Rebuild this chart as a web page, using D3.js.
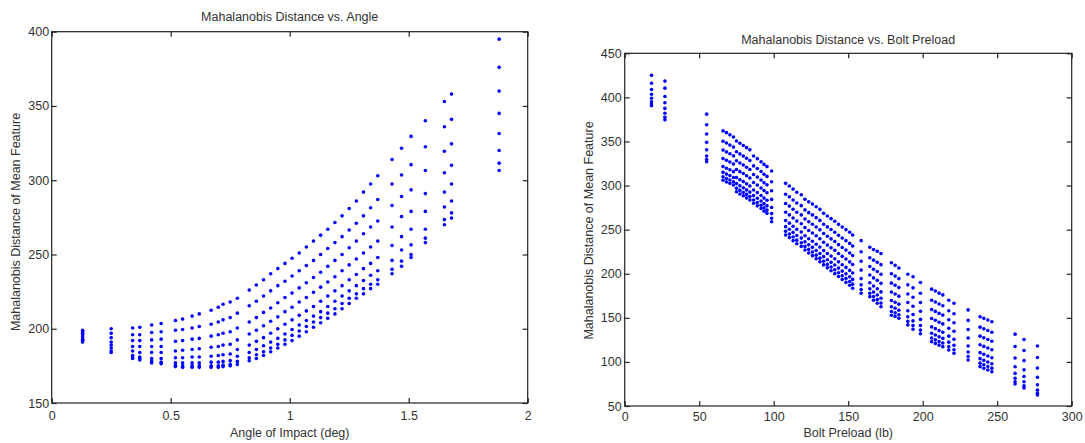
<!DOCTYPE html>
<html>
<head>
<meta charset="utf-8">
<script src="https://cdn.jsdelivr.net/npm/d3@7"></script>
<style>
  html, body { margin: 0; padding: 0; background: #fff; }
  svg { display: block; }
  text { font-family: "Liberation Sans", Arial, Helvetica, sans-serif; fill: #333; }
</style>
</head>
<body>
<svg id="chart" width="1085" height="443"></svg>
<script>
// ---------------- Left chart: Mahalanobis Distance vs. Angle ----------------
const leftTitle = "Mahalanobis Distance vs. Angle";
const leftXLabel = "Angle of Impact (deg)";
const leftYLabel = "Mahalanobis Distance of Mean Feature";
const leftXTicks = [0, 0.5, 1, 1.5, 2];
const leftXTickLabels = ["0", "0.5", "1", "1.5", "2"];
const leftYTicks = [150, 200, 250, 300, 350, 400];
const leftYTickLabels = ["150", "200", "250", "300", "350", "400"];

// impact angles (deg) at which measurements were taken
const angleCols = [0.13, 0.25, 0.34, 0.37, 0.42, 0.46, 0.52, 0.55, 0.59, 0.62, 0.67, 0.70, 0.72, 0.75, 0.78,
  0.83, 0.86, 0.89, 0.92, 0.95, 0.98, 1.01, 1.04, 1.07, 1.10, 1.13, 1.16, 1.19, 1.22, 1.25, 1.28, 1.31, 1.34, 1.37,
  1.43, 1.47, 1.51, 1.57, 1.65, 1.68, 1.88];
// distances at each angle (one value per preload level, top to bottom)
const angleDistances = [
  [199, 198, 197, 196, 194.5, 193, 192, 191],
  [200, 197, 194, 191, 189, 187, 185, 184],
  [200.5, 196, 192, 188, 185, 182, 181, 180],
  [201, 196, 192, 188, 184, 181, 180, 179],
  [202.5, 197.5, 192.5, 188, 184, 180, 178, 177],
  [203.5, 198, 193, 188, 184, 180, 177.5, 176.5],
  [205.5, 199, 191.5, 185, 180.5, 177, 175.5, 174.5],
  [206.5, 199.5, 192, 185.5, 180.5, 177, 175, 174],
  [208.5, 200.5, 193, 186, 181, 177, 175, 174],
  [210, 201.5, 193.5, 186.5, 181, 177, 175, 174],
  [212.5, 203, 195, 187.5, 181.5, 177.5, 175, 174],
  [214.5, 204.5, 196, 188, 182, 177.5, 175, 174],
  [216.5, 206, 197, 189, 182.5, 178, 175.5, 174.5],
  [218, 207.5, 198, 189.5, 183, 178.5, 176, 175],
  [220.5, 210.5, 200.5, 192.5, 186, 181.5, 178, 176],
  [226, 215.5, 204.5, 196.5, 189, 184, 180.5, 178.5],
  [229.5, 218.5, 207.5, 199, 191.5, 186, 182.5, 180],
  [233, 222, 211, 202, 194, 188.5, 184.5, 182],
  [237, 225.5, 214, 205, 197, 191, 187, 184.5],
  [240.5, 229, 217.5, 208, 200, 193.5, 189.5, 187],
  [244, 232, 221, 211.5, 203, 196.5, 192.5, 189.5],
  [247.5, 235.5, 224, 214.5, 206, 199.5, 195.5, 192],
  [251, 239, 227.5, 218, 209, 202.5, 198.5, 195],
  [255, 242.5, 231, 221, 212, 205.5, 201.5, 198],
  [259, 246, 234.5, 224.5, 215, 208.5, 204.5, 201],
  [263, 250, 238, 228, 218.5, 211.5, 207.5, 204],
  [267, 254, 242, 231.5, 222, 215, 210.5, 207],
  [271.5, 258, 246, 235, 225.5, 218.5, 213.5, 210],
  [276, 262, 250, 239, 229, 222, 217, 213.5],
  [281, 266.5, 254.5, 243, 233, 225.5, 220.5, 217],
  [286, 271, 259, 247, 236.5, 229, 223.5, 220.5],
  [292, 276, 264, 251, 240.5, 232.5, 227, 223.5],
  [297.5, 281.5, 268.5, 255, 244, 236, 230, 227],
  [303, 287, 272.5, 259, 248, 239, 233, 230],
  [314, 297.5, 283, 268.5, 256, 246, 240, 237],
  [321.5, 303.5, 289, 275.5, 262, 253, 245.5, 242],
  [329.5, 310.5, 293.5, 279, 267, 256.5, 250, 248],
  [340, 322.5, 306.5, 291, 279, 267, 261, 258],
  [353, 336, 319.5, 305, 292, 282, 273.5, 270],
  [358, 341, 324.5, 310, 297.5, 286, 278, 274.5],
  [395, 376, 360, 345, 331.5, 320, 311.5, 306.5]
];

// ---------------- Right chart: Mahalanobis Distance vs. Bolt Preload ----------------
const rightTitle = "Mahalanobis Distance vs. Bolt Preload";
const rightXLabel = "Bolt Preload (lb)";
const rightYLabel = "Mahalanobis Distance of Mean Feature";
const rightXTicks = [0, 50, 100, 150, 200, 250, 300];
const rightXTickLabels = ["0", "50", "100", "150", "200", "250", "300"];
const rightYTicks = [50, 100, 150, 200, 250, 300, 350, 400, 450];
const rightYTickLabels = ["50", "100", "150", "200", "250", "300", "350", "400", "450"];

const preloadCols = [18, 27, 55, 66, 68.3, 70.6, 73, 75, 77.3, 79.6, 81.8, 84, 86.5, 89, 91.5, 93.5, 95.5, 98.6,
  108, 110.5, 113, 115.5, 118.5, 121, 123.5, 126, 128.5, 131, 133.5, 136, 138.5, 141, 143.5, 146, 148.5, 151, 153,
  158.7, 164.5, 167, 169.5, 172, 179, 181.5, 184, 190, 193.5, 198.5, 206, 208.5, 211, 213.5, 217.5, 221, 230.5,
  238.5, 241, 243.7, 246.4, 262, 268, 277];
const preloadDistances = [
  [425, 416, 409, 403.5, 399, 395, 392.5, 390.5],
  [418.5, 410.5, 401, 394, 387.5, 382, 377.5, 374.5],
  [381, 369, 358.5, 349, 340.5, 333.5, 329.5, 327],
  [362, 350.2, 340.2, 330.6, 321.7, 315, 309.9, 306],
  [360, 348.2, 338.2, 328.6, 319.7, 313, 307.9, 304],
  [357.5, 345.9, 336, 326.7, 317.9, 311.3, 306.3, 302.5],
  [355, 343.6, 333.7, 324.5, 315.8, 309.2, 304.3, 300.5],
  [350.5, 338.4, 328.1, 318.3, 309.1, 302.2, 297, 293],
  [348, 335.9, 325.6, 315.8, 306.6, 299.7, 294.5, 290.5],
  [345.5, 333.5, 323.3, 313.6, 304.5, 297.6, 292.5, 288.5],
  [343, 331, 320.8, 311.1, 302, 295.1, 290, 286],
  [340.5, 328.5, 318.3, 308.6, 299.5, 292.6, 287.5, 283.5],
  [333.5, 322.3, 312.6, 303.5, 295, 288.6, 283.7, 280],
  [330.5, 319.3, 309.6, 300.5, 292, 285.6, 280.7, 277],
  [327, 315.9, 306.3, 297.3, 288.8, 282.5, 277.7, 274],
  [324, 312.9, 303.3, 294.3, 285.8, 279.5, 274.7, 271],
  [321.5, 310.4, 300.8, 291.8, 283.3, 277, 272.2, 268.5],
  [316.5, 304.4, 294.1, 284.3, 275.1, 268.2, 263, 259],
  [302.5, 290.2, 279.7, 269.7, 260.4, 253.4, 248.1, 244],
  [299.5, 287.2, 276.7, 266.7, 257.4, 250.4, 245.1, 241],
  [296, 283.7, 273.2, 263.2, 253.9, 246.9, 241.6, 237.5],
  [292.5, 280.2, 269.7, 259.7, 250.4, 243.4, 238.1, 234],
  [289.5, 277.2, 266.7, 256.7, 247.4, 240.4, 235.1, 231],
  [284.5, 272.4, 262.1, 252.3, 243.1, 236.2, 231, 227],
  [281.5, 269.3, 258.9, 249, 239.7, 232.8, 227.6, 223.5],
  [279, 266.7, 256.2, 246.2, 236.9, 229.9, 224.6, 220.5],
  [276, 263.6, 253, 243, 233.5, 226.4, 221.1, 217],
  [273, 260.5, 249.8, 239.7, 230.2, 223, 217.7, 213.5],
  [268.5, 256.2, 245.7, 235.7, 226.4, 219.4, 214.1, 210],
  [265.5, 253.1, 242.5, 232.5, 223, 215.9, 210.6, 206.7],
  [262.5, 250.1, 239.5, 229.5, 220, 212.9, 207.6, 203.4],
  [259.5, 247.1, 236.5, 226.5, 217, 209.9, 204.6, 200.1],
  [256, 243.6, 233, 223, 213.5, 206.4, 201.1, 196.8],
  [253, 240.5, 229.8, 219.7, 210.2, 203, 197.7, 193.5],
  [250, 237.5, 226.8, 216.7, 207.2, 200, 194.7, 190.2],
  [247, 234.4, 223.6, 213.4, 203.8, 196.6, 191.2, 186.9],
  [244, 231.4, 220.6, 210.4, 200.8, 193.6, 188.2, 183.6],
  [237.5, 225, 214.2, 204.1, 194.5, 187.4, 182, 177.8],
  [230, 218.2, 208.2, 198.6, 189.7, 183, 177.9, 174],
  [227.5, 215.4, 205.1, 195.3, 186.1, 179.2, 174, 170],
  [225.5, 213.1, 202.5, 192.5, 183, 175.9, 170.6, 166.5],
  [223, 210.3, 199.4, 189.1, 179.4, 172.2, 166.7, 162.5],
  [212.5, 200, 189.3, 179.2, 169.7, 162.5, 157.2, 153],
  [209.5, 197.3, 186.9, 177, 167.7, 160.8, 155.6, 151.5],
  [206.5, 194.5, 184.3, 174.6, 165.5, 158.6, 153.5, 149.5],
  [199.5, 187.4, 177.1, 167.3, 158.1, 151.2, 146, 142],
  [196.5, 184, 173.3, 163.2, 153.7, 146.5, 141.2, 137],
  [190, 177.8, 167.4, 157.5, 148.2, 141.3, 136.1, 132],
  [182.5, 170, 159.3, 149.2, 139.7, 132.5, 127.2, 123],
  [180.5, 168, 157.3, 147.2, 137.7, 130.5, 125.2, 121],
  [178, 165.6, 155, 145, 135.5, 128.4, 123.1, 119],
  [176, 163.7, 153.1, 143.1, 133.7, 126.7, 121.4, 117.3],
  [170, 158.1, 147.9, 138.2, 129.2, 122.4, 117.3, 113.5],
  [166.5, 154.6, 144.4, 134.7, 125.7, 118.9, 113.8, 109.8],
  [159, 147.1, 136.8, 127.2, 118.1, 111.3, 106.2, 102.2],
  [151.3, 139.4, 129.2, 119.5, 110.5, 103.7, 98.6, 94.6],
  [149.4, 137.5, 127.3, 117.6, 108.6, 101.8, 96.7, 92.7],
  [147.5, 135.6, 125.4, 115.7, 106.7, 99.9, 94.8, 90.8],
  [145.6, 133.7, 123.5, 113.8, 104.8, 98, 92.9, 88.9],
  [131.5, 117.5, 104.5, 94.5, 87, 81.5, 77.5, 75],
  [125.5, 113, 101.5, 91, 83.5, 77.5, 73, 70.5],
  [118, 105, 93, 82.5, 74, 68, 64.5, 62.5]
];

// ---------------- Drawing ----------------
const svg = d3.select("#chart");
const FONT = 12.5;
const DOT = "#0000ff";

function drawPanel(cfg) {
  const { x, y, xTicks, xTickLabels, yTicks, yTickLabels, cols, vals,
          title, xLabel, yLabel, titleY, xLabelY, yLabelX, yLabelCY, xPad, yPad } = cfg;
  const [x0, x1] = x.range();
  const [yb, yt] = y.range();
  const g = svg.append("g");

  // points
  const pts = cols.flatMap((c, i) => vals[i].map(v => [c, v]));
  g.append("g").selectAll("circle").data(pts).join("circle")
    .attr("cx", d => x(d[0])).attr("cy", d => y(d[1]))
    .attr("r", 1.8).attr("fill", DOT);

  // frame
  g.append("rect").attr("x", x0).attr("y", yt).attr("width", x1 - x0).attr("height", yb - yt)
    .attr("fill", "none").attr("stroke", "#222").attr("stroke-width", 1.2);

  const style = sel => {
    sel.select(".domain").remove();
    sel.selectAll(".tick line").attr("stroke", "#222").attr("stroke-width", 1.2);
    sel.selectAll(".tick text").attr("font-size", FONT).attr("fill", "#333")
      .style("font-family", '"Liberation Sans", Arial, sans-serif');
  };
  const fmtX = d => xTickLabels[xTicks.indexOf(d)];
  const fmtY = d => yTickLabels[yTicks.indexOf(d)];

  g.append("g").attr("transform", `translate(0,${yb})`)
    .call(d3.axisBottom(x).tickValues(xTicks).tickFormat(fmtX).tickSizeInner(-5).tickSizeOuter(0).tickPadding(xPad))
    .call(style);
  g.append("g").attr("transform", `translate(0,${yt})`)
    .call(d3.axisTop(x).tickValues(xTicks).tickFormat("").tickSizeInner(-5).tickSizeOuter(0))
    .call(style);
  g.append("g").attr("transform", `translate(${x0},0)`)
    .call(d3.axisLeft(y).tickValues(yTicks).tickFormat(fmtY).tickSizeInner(-5).tickSizeOuter(0).tickPadding(yPad))
    .call(style);
  g.append("g").attr("transform", `translate(${x1},0)`)
    .call(d3.axisRight(y).tickValues(yTicks).tickFormat("").tickSizeInner(-5).tickSizeOuter(0))
    .call(style);

  const cx = (x0 + x1) / 2;
  g.append("text").attr("x", cx).attr("y", titleY).attr("text-anchor", "middle")
    .attr("font-size", FONT).text(title);
  g.append("text").attr("x", cx).attr("y", xLabelY).attr("text-anchor", "middle")
    .attr("font-size", FONT).text(xLabel);
  g.append("text").attr("transform", `translate(${yLabelX},${yLabelCY}) rotate(-90)`)
    .attr("text-anchor", "middle").attr("font-size", FONT).text(yLabel);
}

drawPanel({
  x: d3.scaleLinear().domain([0, 2]).range([51.7, 527.7]),
  y: d3.scaleLinear().domain([150, 400]).range([403, 31.7]),
  xTicks: leftXTicks, xTickLabels: leftXTickLabels,
  yTicks: leftYTicks, yTickLabels: leftYTickLabels,
  cols: angleCols, vals: angleDistances,
  title: leftTitle, xLabel: leftXLabel, yLabel: leftYLabel,
  titleY: 20.5, xLabelY: 437, yLabelX: 20, yLabelCY: 222, xPad: 8.5, yPad: 2.5
});

drawPanel({
  x: d3.scaleLinear().domain([0, 300]).range([624.7, 1071.7]),
  y: d3.scaleLinear().domain([50, 450]).range([406, 53.3]),
  xTicks: rightXTicks, xTickLabels: rightXTickLabels,
  yTicks: rightYTicks, yTickLabels: rightYTickLabels,
  cols: preloadCols, vals: preloadDistances,
  title: rightTitle, xLabel: rightXLabel, yLabel: rightYLabel,
  titleY: 43.5, xLabelY: 437, yLabelX: 592.5, yLabelCY: 230.5, xPad: 6, yPad: 3
});
</script>
</body>
</html>
